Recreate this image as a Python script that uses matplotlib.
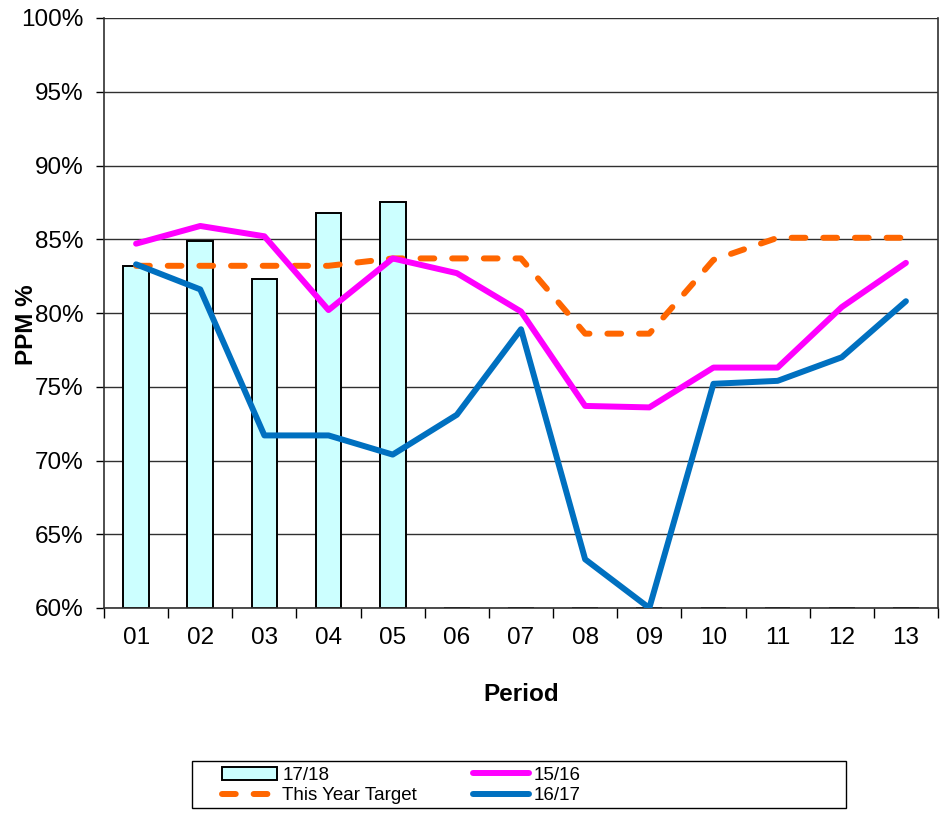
import numpy as np
import matplotlib.pyplot as plt
from matplotlib.patches import Rectangle
from matplotlib.ticker import FixedLocator, PercentFormatter

plt.rcParams["font.family"] = ["Liberation Sans", "DejaVu Sans"]

periods = ["01", "02", "03", "04", "05", "06", "07", "08", "09", "10", "11", "12", "13"]
ppm_1718 = [83.2, 84.9, 82.3, 86.8, 87.5, 60, 60, 60, 60, 60, 60, 60, 60]
ppm_1516 = [84.7, 85.9, 85.2, 80.2, 83.7, 82.7, 80.1, 73.7, 73.6, 76.3, 76.3, 80.4, 83.4]
ppm_1617 = [83.3, 81.6, 71.7, 71.7, 70.4, 73.1, 78.9, 63.3, 60.0, 75.2, 75.4, 77.0, 80.8]
target = [83.2, 83.2, 83.2, 83.2, 83.7, 83.7, 83.7, 78.6, 78.6, 83.6, 85.1, 85.1, 85.1]

Y_MIN, Y_MAX = 60, 100
W, H = 940, 814

fig = plt.figure(figsize=(W / 100, H / 100), dpi=100)
ax = fig.add_axes([104 / W, 1 - 608 / H, 834 / W, 590 / H])

x = np.arange(len(periods))
ax.bar(x, np.array(ppm_1718) - Y_MIN, bottom=Y_MIN, width=0.4,
       color="#CCFFFF", edgecolor="black", linewidth=1.4, label="17/18", zorder=2)
ax.plot(x, target, color="#FF6600", lw=4.3, ls=(0, (2.3, 3.0)),
        dash_capstyle="round", label="This Year Target", zorder=3)
ax.plot(x, ppm_1516, color="#FF00FF", lw=4.3, solid_capstyle="round",
        label="15/16", zorder=4)
ax.plot(x, ppm_1617, color="#0070C0", lw=4.3, solid_capstyle="round",
        label="16/17", zorder=5)

ax.set_xlim(-0.5, len(periods) - 0.5)
ax.set_ylim(Y_MIN, Y_MAX)
ax.set_yticks(np.arange(60, 101, 5))
ax.yaxis.set_major_formatter(PercentFormatter(decimals=0))
ax.yaxis.grid(True, color="#303030", lw=1.0)
ax.set_axisbelow(True)

ax.set_xticks(x)
ax.set_xticklabels(periods)
ax.xaxis.set_minor_locator(FixedLocator(np.arange(-0.5, len(periods), 1)))
ax.tick_params(axis="x", which="major", length=0, pad=14, labelsize=17.5)
ax.tick_params(axis="x", which="minor", length=7, width=1, direction="out")
ax.tick_params(axis="y", length=6, width=1, direction="out", labelsize=17.5, pad=9)

for side in ["left", "bottom", "right"]:
    ax.spines[side].set_color("#303030")
    ax.spines[side].set_linewidth(1.2)
ax.spines["top"].set_visible(False)

ax.set_xlabel("Period", fontsize=17.5, fontweight="bold", labelpad=24)
ax.set_ylabel("PPM %", fontsize=17.5, fontweight="bold")
ax.yaxis.set_label_coords(-0.079, 0.48)

# legend box spans a fixed width below the plot
fig.patches.append(Rectangle((192 / W, 1 - 808 / H), 654 / W, 47 / H,
                             transform=fig.transFigure, facecolor="white",
                             edgecolor="black", lw=1.0, zorder=1))

handles, labels = ax.get_legend_handles_labels()
order = [labels.index(n) for n in ["17/18", "This Year Target", "15/16", "16/17"]]
leg = fig.legend([handles[i] for i in order], [labels[i] for i in order],
                 ncol=2, loc="center left", bbox_to_anchor=(222 / W, 1 - 785.5 / H),
                 fontsize=13.5, frameon=False, borderpad=0, borderaxespad=0,
                 handlelength=2.95, handletextpad=0.27, columnspacing=3.0,
                 labelspacing=0.2)
leg.set_zorder(2)

fig.savefig("out.png", dpi=100)
